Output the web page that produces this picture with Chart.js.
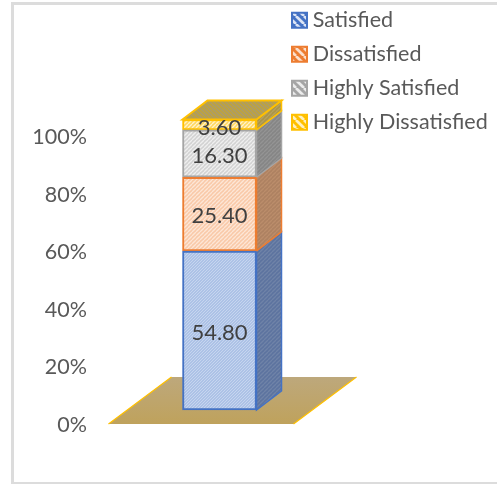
<!DOCTYPE html>
<html>
<head>
<meta charset="utf-8">
<title>Satisfaction</title>
<script src="https://cdn.jsdelivr.net/npm/chart.js@4"></script>
<style>
	html, body { margin: 0; padding: 0; background: #fff; }
	#wrap { position: relative; width: 497px; height: 484px; overflow: hidden; }
	#frame { position: absolute; left: 11px; top: 2px; width: 500px; height: 477px; border: 3px solid #dcdcdc; }
	#chart { position: absolute; left: 0; top: 0; }
</style>
</head>
<body>
<div id="wrap">
	<div id="frame"></div>
	<canvas id="chart" width="497" height="484"></canvas>
</div>
<script>
const categories = ['Responses'];
const seriesNames = ['Satisfied', 'Dissatisfied', 'Highly Satisfied', 'Highly Dissatisfied'];
const satisfied = [54.8];
const dissatisfied = [25.4];
const highlySatisfied = [16.3];
const highlyDissatisfied = [3.6];
const tickValues = [0, 20, 40, 60, 80, 100];

const edgeColors = ['#4472c4', '#ed7d31', '#a5a5a5', '#ffc000'];
const frontColors = [['#adc2e6', '#c6d5ef'], ['#f9c9a8', '#fde6d6'], ['#d2d2d2', '#efefef'], ['#ffd75e', '#fff3cc']];
const sideColors = [['#5c739f', '#6f83a8'], ['#ad8161', '#bb8d6b'], ['#858585', '#949494'], ['#ab9446', '#b5a25f']];
const swatchColors = ['#dbe4f5', '#fbe0cd', '#ececec', '#fff0bf'];
const topColors = ['#bfa33c', '#a99b6e'];

// small diagonal hatch, used for every face of the column
function hatch(bg, fg, size, dir) {
	const c = document.createElement('canvas');
	c.width = size;
	c.height = size;
	const g = c.getContext('2d');
	g.fillStyle = bg;
	g.fillRect(0, 0, size, size);
	g.strokeStyle = fg;
	g.lineWidth = size / 3;
	for (let i = -size; i <= size * 2; i += size) {
		g.beginPath();
		if (dir > 0) {
			g.moveTo(i, size);
			g.lineTo(i + size, 0);
		} else {
			g.moveTo(i, 0);
			g.lineTo(i + size, size);
		}
		g.stroke();
	}
	return g.createPattern(c, 'repeat');
}

const ctx = document.getElementById('chart').getContext('2d');
const fronts = frontColors.map(function(p, i) { return hatch(p[0], p[1], i === 0 ? 3 : 4, 1); });
const sides = sideColors.map(function(p) { return hatch(p[0], p[1], 4, 1); });
const swatches = edgeColors.map(function(col, i) { return hatch(col, swatchColors[i], 8, -1); });
const topFace = hatch(topColors[0], topColors[1], 4, -1);
const DEPTH_X = 25;
const DEPTH_Y = 19;

function poly(c, pts, fill, stroke, width) {
	c.beginPath();
	pts.forEach(function(p, i) {
		if (i === 0) c.moveTo(p[0], p[1]); else c.lineTo(p[0], p[1]);
	});
	c.closePath();
	c.fillStyle = fill;
	c.fill();
	if (stroke) {
		c.strokeStyle = stroke;
		c.lineWidth = width;
		c.stroke();
	}
}

const column3d = {
	id: 'column3d',
	beforeLayout(chart) {
		// legend floats over the top right corner, so it must not take any room
		const legend = chart.legend;
		if (!legend._patched) {
			const fit = legend.fit;
			legend.fit = function() {
				fit.call(this);
				this.width = 1;
			};
			legend._patched = true;
		}
	},
	beforeDraw(chart) {
		const legend = chart.legend;
		legend.left = 284.5;
		legend.right = 497;
		legend.top = -3;
		legend.bottom = 200;
	},
	beforeDatasetsDraw(chart) {
		const c = chart.ctx;
		const first = chart.getDatasetMeta(0).data[0];
		const left = first.x - first.width / 2;
		const right = first.x + first.width / 2;
		const floorY = first.base + 14;
		const fl = left - 74;
		const fr = right + 37;
		const grad = c.createLinearGradient(0, floorY - 47, 0, floorY);
		grad.addColorStop(0, '#bda87c');
		grad.addColorStop(1, '#bfa25c');
		c.save();
		poly(c, [[fl, floorY], [fr, floorY], [fr + 63, floorY - 47], [fl + 63, floorY - 47]], grad);
		c.strokeStyle = '#ffc000';
		c.lineWidth = 1.2;
		c.beginPath();
		c.moveTo(fl, floorY);
		c.lineTo(fl + 63, floorY - 47);
		c.moveTo(fr, floorY);
		c.lineTo(fr + 63, floorY - 47);
		c.stroke();
		chart.data.datasets.forEach(function(ds, i) {
			const bar = chart.getDatasetMeta(i).data[0];
			const r = bar.x + bar.width / 2;
			poly(c, [[r, bar.y], [r + DEPTH_X, bar.y - DEPTH_Y], [r + DEPTH_X, bar.base - DEPTH_Y], [r, bar.base]], sides[i], edgeColors[i], 1.5);
		});
		const last = chart.getDatasetMeta(chart.data.datasets.length - 1).data[0];
		poly(c, [[left, last.y], [left + DEPTH_X, last.y - DEPTH_Y], [right + DEPTH_X, last.y - DEPTH_Y], [right, last.y]], topFace, edgeColors[3], 2);
		c.restore();
	},
	afterDatasetsDraw(chart) {
		const c = chart.ctx;
		c.save();
		c.font = '22px Lato';
		c.fillStyle = '#404040';
		c.textAlign = 'center';
		c.textBaseline = 'middle';
		chart.data.datasets.forEach(function(ds, i) {
			const bar = chart.getDatasetMeta(i).data[0];
			const extra = i === 3 ? 3 : 2;
			c.fillText(ds.data[0].toFixed(2), bar.x, (bar.y + bar.base) / 2 + extra);
		});
		c.restore();
	}
};

function makeSet(i, values) {
	return {
		label: seriesNames[i],
		data: values,
		yAxisID: 'yBar',
		backgroundColor: fronts[i],
		borderColor: edgeColors[i],
		borderWidth: 2,
		borderSkipped: false,
		barThickness: 74,
		clip: false
	};
}

new Chart(ctx, {
	type: 'bar',
	data: {
		labels: categories,
		datasets: [
			makeSet(0, satisfied),
			makeSet(1, dissatisfied),
			makeSet(2, highlySatisfied),
			makeSet(3, highlyDissatisfied)
		]
	},
	options: {
		responsive: false,
		animation: false,
		layout: { padding: { left: 0, right: 152, top: 137, bottom: 59 } },
		scales: {
			x: { stacked: true, display: false },
			y: {
				min: 0,
				max: 100,
				afterFit(scale) { scale.width = 95; },
				afterBuildTicks(scale) { scale.ticks = tickValues.map(function(v) { return { value: v }; }); },
				grid: { display: false },
				border: { display: false },
				ticks: {
					padding: 0,
					color: '#595959',
					font: { family: 'Lato', size: 21.5 },
					callback: function(v) { return v + '%'; }
				}
			},
			// the column sits on the floor in front of the axis, so it has its own hidden scale
			yBar: { stacked: true, display: false, min: -5.169, max: 94.07 }
		},
		plugins: {
			tooltip: { enabled: false },
			legend: {
				position: 'right',
				align: 'start',
				labels: {
					usePointStyle: true,
					pointStyle: 'rect',
					boxWidth: 5,
					boxHeight: 15,
					padding: 12.5,
					color: '#595959',
					font: { family: 'Lato', size: 21.5 },
					generateLabels(chart) {
						const items = Chart.defaults.plugins.legend.labels.generateLabels(chart);
						items.forEach(function(item, i) { item.fillStyle = swatches[i]; });
						return items;
					}
				}
			}
		}
	},
	plugins: [column3d]
});
</script>
</body>
</html>
